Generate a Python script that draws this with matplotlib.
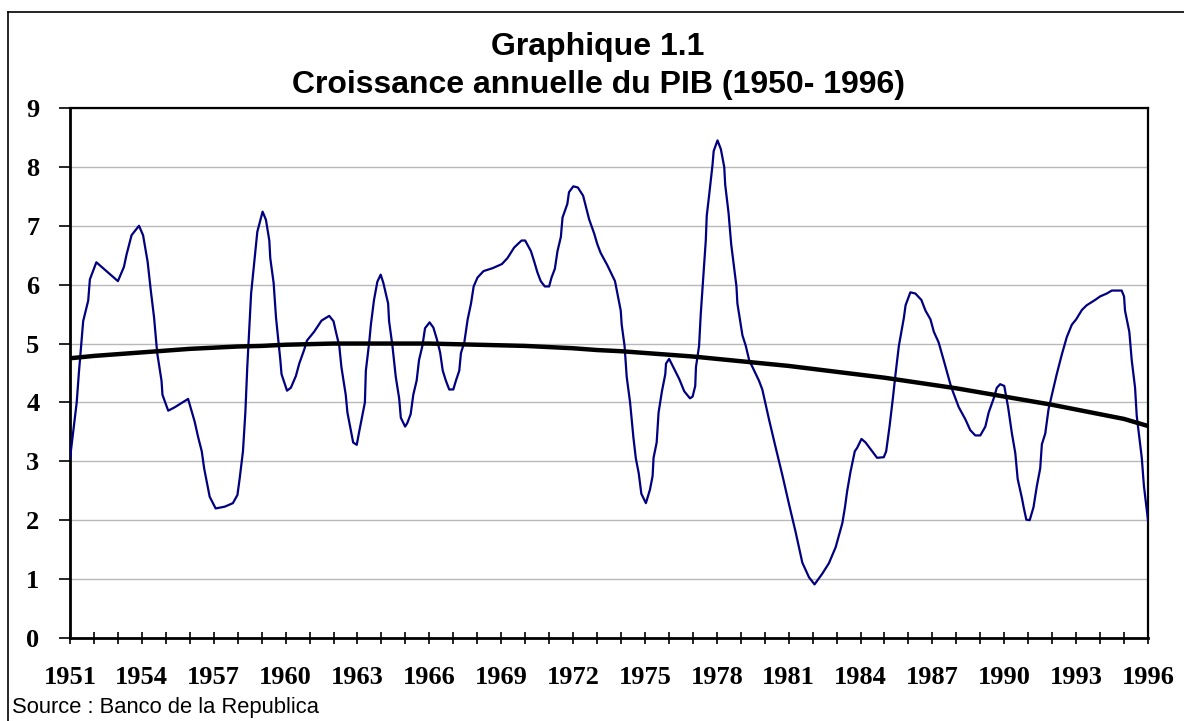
import matplotlib
matplotlib.use('Agg')
import matplotlib.pyplot as plt
from matplotlib.lines import Line2D

# ---------- DATA ----------
years = [
    1951.0, 1951.28, 1951.37, 1951.55, 1951.76, 1951.83, 1952.1, 1953.0, 1953.25, 1953.36,
    1953.57, 1953.88, 1954.05, 1954.24, 1954.37, 1954.51, 1954.64, 1954.82, 1954.86, 1955.1,
    1955.38, 1955.93, 1956.2, 1956.35, 1956.5, 1956.6, 1956.83, 1957.08, 1957.46, 1957.8,
    1957.99, 1958.08, 1958.22, 1958.32, 1958.4, 1958.56, 1958.82, 1959.04, 1959.18, 1959.32,
    1959.36, 1959.5, 1959.6, 1959.78, 1959.83, 1960.06, 1960.22, 1960.43, 1960.57, 1960.78,
    1960.89, 1961.19, 1961.5, 1961.82, 1962.0, 1962.1, 1962.24, 1962.33, 1962.51, 1962.58,
    1962.72, 1962.82, 1962.97, 1963.07, 1963.31, 1963.35, 1963.49, 1963.56, 1963.69, 1963.83,
    1963.97, 1964.08, 1964.28, 1964.32, 1964.46, 1964.6, 1964.74, 1964.81, 1964.99, 1965.08,
    1965.22, 1965.33, 1965.47, 1965.57, 1965.71, 1965.82, 1966.01, 1966.17, 1966.31, 1966.45,
    1966.56, 1966.69, 1966.83, 1967.0, 1967.11, 1967.25, 1967.32, 1967.46, 1967.6, 1967.74,
    1967.85, 1968.01, 1968.26, 1968.64, 1969.03, 1969.26, 1969.54, 1969.85, 1970.0, 1970.24,
    1970.38, 1970.51, 1970.65, 1970.82, 1971.0, 1971.1, 1971.24, 1971.35, 1971.49, 1971.56,
    1971.76, 1971.83, 1972.01, 1972.2, 1972.42, 1972.67, 1972.88, 1973.01, 1973.15, 1973.43,
    1973.75, 1973.99, 1974.03, 1974.15, 1974.24, 1974.38, 1974.52, 1974.62, 1974.74, 1974.85,
    1975.04, 1975.21, 1975.32, 1975.36, 1975.49, 1975.57, 1975.71, 1975.85, 1975.88, 1976.01,
    1976.22, 1976.43, 1976.64, 1976.88, 1976.99, 1977.1, 1977.13, 1977.26, 1977.33, 1977.47,
    1977.54, 1977.58, 1977.68, 1977.82, 1977.87, 1978.03, 1978.17, 1978.31, 1978.35, 1978.49,
    1978.6, 1978.82, 1978.86, 1979.07, 1979.21, 1979.35, 1979.56, 1979.76, 1979.9, 1980.18,
    1980.46, 1980.74, 1981.01, 1981.29, 1981.57, 1981.85, 1982.08, 1982.4, 1982.68, 1982.96,
    1983.24, 1983.35, 1983.44, 1983.58, 1983.76, 1983.86, 1984.04, 1984.21, 1984.49, 1984.69,
    1984.97, 1985.07, 1985.21, 1985.35, 1985.46, 1985.6, 1985.81, 1985.88, 1986.08, 1986.29,
    1986.54, 1986.71, 1986.92, 1987.06, 1987.26, 1987.47, 1987.75, 1987.85, 1988.1, 1988.38,
    1988.58, 1988.79, 1989.0, 1989.21, 1989.35, 1989.56, 1989.69, 1989.83, 1990.0, 1990.16,
    1990.32, 1990.46, 1990.56, 1990.74, 1990.81, 1990.92, 1991.06, 1991.22, 1991.36, 1991.5,
    1991.57, 1991.71, 1991.85, 1991.99, 1992.19, 1992.4, 1992.61, 1992.82, 1993.0, 1993.24,
    1993.44, 1993.79, 1994.0, 1994.28, 1994.49, 1994.9, 1995.0, 1995.04, 1995.22, 1995.32,
    1995.46, 1995.53, 1995.74, 1995.83, 1996.0,
]
growth = [
    3.05, 4.0, 4.5, 5.38, 5.73, 6.09, 6.38, 6.06, 6.3, 6.51,
    6.84, 7.0, 6.84, 6.39, 5.91, 5.44, 4.84, 4.37, 4.13, 3.86,
    3.92, 4.06, 3.68, 3.41, 3.17, 2.88, 2.4, 2.2, 2.23, 2.29,
    2.43, 2.7, 3.17, 3.83, 4.6, 5.85, 6.9, 7.24, 7.1, 6.75,
    6.45, 6.03, 5.44, 4.72, 4.48, 4.2, 4.25, 4.45, 4.66, 4.9,
    5.05, 5.2, 5.39, 5.47, 5.38, 5.2, 4.96, 4.6, 4.13, 3.83,
    3.53, 3.32, 3.28, 3.5, 4.0, 4.54, 5.02, 5.32, 5.74, 6.05,
    6.17, 6.03, 5.68, 5.38, 4.96, 4.43, 4.07, 3.74, 3.59, 3.65,
    3.8, 4.13, 4.37, 4.72, 4.96, 5.26, 5.36, 5.27, 5.08, 4.85,
    4.54, 4.37, 4.22, 4.22, 4.37, 4.54, 4.84, 5.02, 5.41, 5.68,
    5.97, 6.12, 6.23, 6.28, 6.35, 6.45, 6.63, 6.75, 6.75, 6.57,
    6.39, 6.21, 6.06, 5.97, 5.97, 6.12, 6.27, 6.57, 6.81, 7.14,
    7.37, 7.57, 7.67, 7.65, 7.51, 7.11, 6.87, 6.69, 6.54, 6.33,
    6.06, 5.56, 5.32, 4.96, 4.43, 4.0, 3.4, 3.05, 2.8, 2.45,
    2.29, 2.52, 2.75, 3.06, 3.32, 3.83, 4.19, 4.48, 4.66, 4.74,
    4.57, 4.4, 4.19, 4.07, 4.1, 4.28, 4.6, 4.96, 5.5, 6.33,
    6.75, 7.17, 7.52, 8.03, 8.27, 8.45, 8.3, 8.0, 7.7, 7.22,
    6.69, 5.97, 5.68, 5.14, 4.96, 4.72, 4.54, 4.37, 4.22, 3.71,
    3.23, 2.76, 2.28, 1.8, 1.28, 1.03, 0.91, 1.09, 1.27, 1.54,
    1.95, 2.22, 2.49, 2.82, 3.17, 3.23, 3.38, 3.32, 3.17, 3.06,
    3.07, 3.17, 3.59, 4.07, 4.48, 4.96, 5.44, 5.65, 5.87, 5.85,
    5.74, 5.56, 5.41, 5.2, 5.02, 4.72, 4.31, 4.19, 3.92, 3.71,
    3.53, 3.44, 3.44, 3.59, 3.83, 4.07, 4.25, 4.31, 4.28, 3.92,
    3.47, 3.14, 2.7, 2.37, 2.22, 2.01, 2.0, 2.22, 2.58, 2.88,
    3.29, 3.47, 3.89, 4.13, 4.48, 4.81, 5.11, 5.32, 5.41, 5.57,
    5.65, 5.74, 5.8, 5.85, 5.9, 5.9, 5.8, 5.56, 5.2, 4.72,
    4.25, 3.77, 3.06, 2.58, 2.0,
]

trend_years = list(range(1951, 1997))
trend = [
    4.75, 4.79, 4.82, 4.85, 4.88, 4.91, 4.93, 4.95, 4.96, 4.98,
    4.99, 5.0, 5.0, 5.0, 5.0, 5.0, 4.99, 4.98, 4.97, 4.96,
    4.94, 4.92, 4.89, 4.87, 4.84, 4.81, 4.78, 4.74, 4.70, 4.66,
    4.62, 4.57, 4.52, 4.47, 4.42, 4.36, 4.30, 4.24, 4.17, 4.10,
    4.03, 3.96, 3.88, 3.80, 3.72, 3.60,
]

label_years = list(range(1951, 1997, 3))
title = "Graphique 1.1\nCroissance annuelle du PIB (1950- 1996)"
source = "Source : Banco de la Republica"

# ---------- FIGURE ----------
fig = plt.figure(figsize=(11.84, 7.21), dpi=100)
ax = fig.add_axes([70 / 1184, 1 - 638 / 721, (1148 - 70) / 1184, (638 - 108) / 721])

ax.plot(years, growth, color="#000080", lw=1.6, zorder=3)
ax.plot(trend_years, trend, color="black", lw=3.2, zorder=4)

ax.set_xlim(1951, 1996)
ax.set_ylim(0, 9)
ax.set_yticks(range(0, 10))
ax.set_xticks(label_years)
ax.set_xticks(trend_years, minor=True)
ax.grid(axis="y", color="#b8b8b8", lw=1.0)
ax.set_axisbelow(True)

for s in ["left", "bottom"]:
    ax.spines[s].set_linewidth(2.0)
for s in ["top", "right"]:
    ax.spines[s].set_linewidth(1.6)

ax.tick_params(axis="x", which="both", direction="inout", length=9, width=1.2, pad=16)
ax.tick_params(axis="y", direction="out", length=8, width=1.2, pad=14)

for lab in ax.get_xticklabels() + ax.get_yticklabels():
    lab.set_fontfamily("Liberation Serif")
    lab.set_fontweight("bold")
    lab.set_fontsize(19)

# ---------- TEXT ----------
fig.text(598 / 1184, 1 - 66 / 721, title, ha="center", va="center",
         fontsize=23, fontweight="bold", family="Liberation Sans", linespacing=1.38)
fig.text(12 / 1184, 1 - 707 / 721, source, ha="left", va="center",
         fontsize=15.8, family="Liberation Sans")

# outer frame (top and left visible)
fig.add_artist(Line2D([8 / 1184, 1.0], [1 - 12 / 721] * 2, color="black", lw=1.2))
fig.add_artist(Line2D([8 / 1184] * 2, [0.0, 1 - 12 / 721], color="black", lw=1.2))

plt.savefig("out.png", dpi=100)
plt.close(fig)
